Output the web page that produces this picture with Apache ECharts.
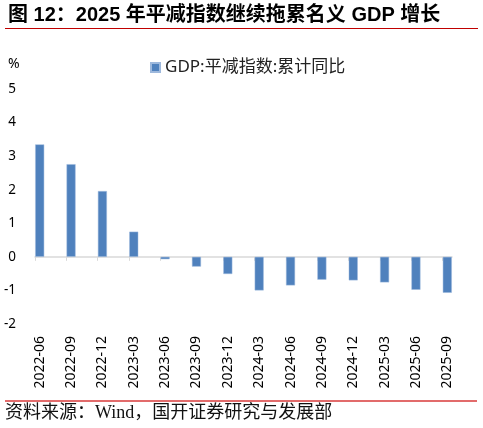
<!DOCTYPE html>
<html lang="zh">
<head>
    <meta charset="UTF-8" />
    <title>2025年平减指数继续拖累名义GDP增长</title>
    <script src="https://cdn.jsdelivr.net/npm/echarts/dist/echarts.min.js"></script>
    <style>
        html, body { margin: 0; padding: 0; background: #fff; }
        #chart { width: 483px; height: 428px; }
    </style>
</head>
<body>
    <div id="chart"></div>
    <script>
        // 数据
        const periods = ['2022-06', '2022-09', '2022-12', '2023-03', '2023-06', '2023-09', '2023-12',
            '2024-03', '2024-06', '2024-09', '2024-12', '2025-03', '2025-06', '2025-09'];
        const deflator = [3.35, 2.76, 1.96, 0.75, -0.07, -0.29, -0.51,
            -1.0, -0.85, -0.68, -0.70, -0.76, -0.98, -1.07];
        const yTicks = [-2, -1, 0, 1, 2, 3, 4, 5];
        const seriesName = 'GDP:平减指数:累计同比';

        const latin = '"Liberation Sans", "Noto Sans CJK SC", sans-serif';
        const idx = periods.map((p, i) => i);

        const chart = echarts.init(document.getElementById('chart'));
        chart.setOption({
            animation: false,
            title: [
                {
                    text: '图 12：2025 年平减指数继续拖累名义 GDP 增长',
                    left: 8, top: 5, padding: 0,
                    textStyle: { fontSize: 20, fontWeight: 'bold', color: '#000', fontFamily: latin }
                },
                {
                    text: '%',
                    left: 8, top: 57, padding: 0,
                    textStyle: { fontSize: 14, fontWeight: 'normal', color: '#000', fontFamily: '"Noto Sans", sans-serif' }
                },
                {
                    text: '资料来源：Wind，国开证券研究与发展部',
                    left: 5, top: 404, padding: 0,
                    textStyle: { fontSize: 18, fontWeight: 'normal', color: '#111', fontFamily: '"Liberation Serif", "Noto Sans CJK SC", serif' }
                }
            ],
            graphic: [
                { type: 'line', shape: { x1: 5, y1: 28.5, x2: 478, y2: 28.5 }, style: { stroke: '#c00000', lineWidth: 1.2 } },
                { type: 'line', shape: { x1: 5, y1: 401, x2: 477, y2: 401 }, style: { stroke: '#e26b6b', lineWidth: 2 } }
            ],
            legend: {
                data: [seriesName],
                left: 145, top: 54,
                icon: 'rect', itemWidth: 9, itemHeight: 9,
                textStyle: { fontSize: 17, color: '#222', fontFamily: '"Noto Sans", "Noto Sans CJK SC", sans-serif' }
            },
            grid: { left: 35, right: 31, top: 89, bottom: 104 },
            xAxis: [
                {
                    type: 'value', min: -0.15, max: 13.15, position: 'bottom',
                    axisLine: { show: false, onZero: false },
                    axisTick: { show: false },
                    splitLine: { show: false },
                    axisLabel: {
                        customValues: idx,
                        formatter: v => periods[Math.round(v)] || '',
                        rotate: 90, margin: 12,
                        fontSize: 14, color: '#000', fontFamily: '"Noto Sans", sans-serif'
                    }
                },
                {
                    type: 'value', min: -0.15, max: 13.15, position: 'top',
                    axisLine: { show: true, onZero: true, lineStyle: { color: '#d9d9d9', width: 1.5 } },
                    axisTick: {
                        show: true, inside: true, length: 4,
                        customValues: idx.map(i => i - 0.15),
                        lineStyle: { color: '#d9d9d9', width: 1 }
                    },
                    splitLine: { show: false },
                    axisLabel: { show: false }
                }
            ],
            yAxis: {
                type: 'value', min: yTicks[0], max: yTicks[yTicks.length - 1], interval: 1,
                axisLine: { show: false },
                axisTick: { show: false },
                splitLine: { show: false },
                axisLabel: { margin: 19, fontSize: 13.5, color: '#000', fontFamily: '"Noto Sans", sans-serif' }
            },
            series: [
                {
                    name: seriesName,
                    type: 'bar',
                    xAxisIndex: 0,
                    barWidth: 9,
                    data: deflator.map((v, i) => [i, v]),
                    itemStyle: { color: '#4f81bd', borderColor: '#9db8dc', borderWidth: 0.5 }
                }
            ]
        });
    </script>
</body>
</html>
